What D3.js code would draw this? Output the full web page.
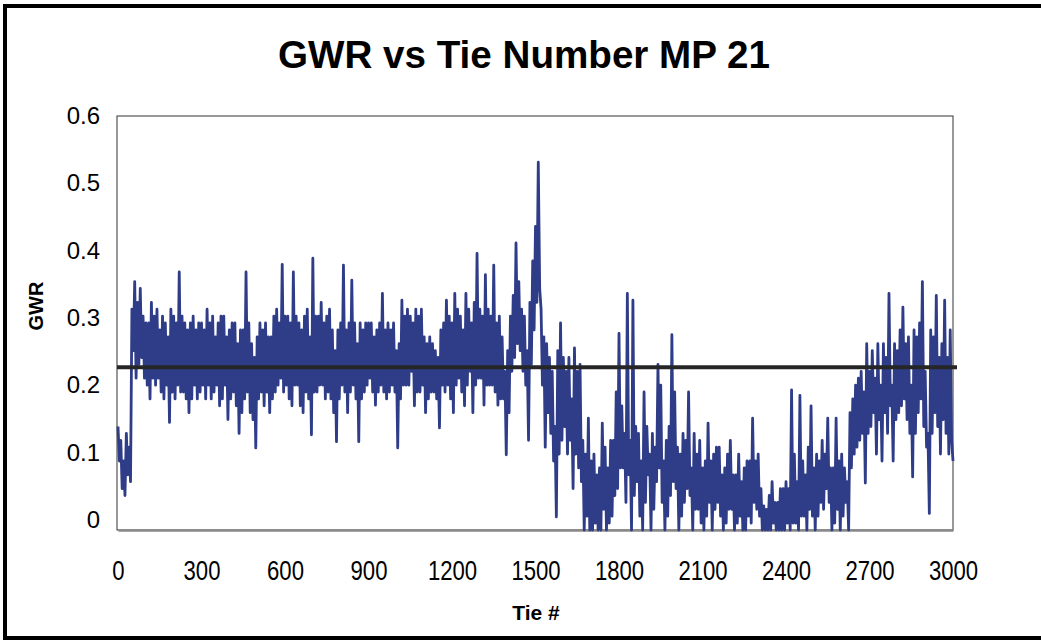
<!DOCTYPE html>
<html>
<head>
<meta charset="utf-8">
<script src="https://cdn.jsdelivr.net/npm/d3@7"></script>
<style>
  html, body { margin: 0; padding: 0; background: #fff; }
  svg { display: block; }
  text { font-family: "Liberation Sans", Arial, sans-serif; fill: #000; }
</style>
</head>
<body>
<svg id="chart" width="1041" height="642"></svg>
<script>
// ---- data ----
const chartTitle = "GWR vs Tie Number MP 21";
const xLabel = "Tie #";
const yLabel = "GWR";
const xTicks = [0, 300, 600, 900, 1200, 1500, 1800, 2100, 2400, 2700, 3000];
const yTicks = [0, 0.1, 0.2, 0.3, 0.4, 0.5, 0.6];
const meanGWR = 0.236;
const tieStep = 5; // GWR readings below are every 5 ties, starting at tie 0 (one row = 100 ties)
const gwr = [
  0.15,0.10, 0.13,0.06, 0.10,0.05, 0.14,0.08, 0.12,0.07, 0.32,0.26, 0.36,0.22, 0.33,0.24, 0.35,0.25, 0.31,0.22,
  0.30,0.21, 0.30,0.19, 0.33,0.22, 0.31,0.21, 0.32,0.22, 0.29,0.20, 0.31,0.19, 0.30,0.21, 0.28,0.156, 0.32,0.20,
  0.31,0.19, 0.30,0.21, 0.374,0.20, 0.31,0.20, 0.30,0.19, 0.29,0.17, 0.30,0.19, 0.31,0.21, 0.29,0.19, 0.30,0.20,
  0.30,0.21, 0.29,0.19, 0.32,0.21, 0.30,0.19, 0.31,0.20, 0.28,0.21, 0.30,0.18, 0.31,0.19, 0.31,0.21, 0.28,0.16,
  0.29,0.19, 0.30,0.20, 0.30,0.18, 0.27,0.14, 0.29,0.17, 0.29,0.19, 0.374,0.20, 0.30,0.17, 0.27,0.16, 0.25,0.119,
  0.28,0.19, 0.30,0.20, 0.29,0.18, 0.30,0.20, 0.28,0.17, 0.28,0.19, 0.31,0.20, 0.32,0.21, 0.30,0.22, 0.385,0.20,
  0.31,0.21, 0.31,0.19, 0.30,0.18, 0.374,0.21, 0.31,0.21, 0.30,0.18, 0.29,0.17, 0.31,0.20, 0.32,0.19, 0.28,0.138,
  0.394,0.20, 0.31,0.20, 0.31,0.21, 0.33,0.21, 0.30,0.19, 0.31,0.20, 0.32,0.19, 0.29,0.17, 0.26,0.128, 0.29,0.19,
  0.30,0.21, 0.384,0.20, 0.29,0.17, 0.30,0.20, 0.362,0.21, 0.30,0.19, 0.27,0.128, 0.30,0.19, 0.29,0.20, 0.30,0.21,
  0.30,0.22, 0.30,0.20, 0.28,0.181, 0.29,0.20, 0.30,0.21, 0.343,0.20, 0.29,0.19, 0.30,0.20, 0.29,0.21, 0.30,0.20,
  0.26,0.119, 0.27,0.19, 0.333,0.21, 0.31,0.21, 0.32,0.21, 0.31,0.23, 0.30,0.18, 0.32,0.20, 0.31,0.20, 0.32,0.21,
  0.28,0.17, 0.27,0.19, 0.28,0.20, 0.27,0.20, 0.26,0.19, 0.25,0.148, 0.29,0.21, 0.30,0.20, 0.333,0.21, 0.31,0.19,
  0.30,0.17, 0.343,0.21, 0.32,0.22, 0.31,0.20, 0.29,0.18, 0.343,0.21, 0.32,0.23, 0.30,0.17, 0.33,0.21, 0.401,0.22,
  0.32,0.22, 0.31,0.181, 0.37,0.21, 0.32,0.21, 0.31,0.21, 0.384,0.20, 0.30,0.181, 0.31,0.19, 0.28,0.19, 0.23,0.109,
  0.26,0.17, 0.31,0.23, 0.34,0.25, 0.416,0.27, 0.36,0.26, 0.32,0.23, 0.31,0.21, 0.26,0.13, 0.33,0.24, 0.39,0.29,
  0.44,0.33, 0.533,0.35, 0.32,0.21, 0.28,0.12, 0.27,0.17, 0.25,0.14, 0.23,0.10, 0.15,0.019, 0.26,0.11, 0.30,0.13,
  0.25,0.15, 0.23,0.11, 0.25,0.13, 0.19,0.06, 0.264,0.11, 0.23,0.09, 0.24,0.07, 0.13,0.0, 0.11,0.02, 0.162,0.0,
  0.10,0.0, 0.11,0.01, 0.08,0.0, 0.09,0.0, 0.155,0.03, 0.12,0.0, 0.09,0.01, 0.13,0.02, 0.13,0.05, 0.20,0.06,
  0.285,0.09, 0.18,0.09, 0.14,0.04, 0.343,0.08, 0.13,0.0, 0.333,0.05, 0.15,0.07, 0.14,0.02, 0.10,0.0, 0.20,0.04,
  0.15,0.08, 0.11,0.0, 0.14,0.03, 0.12,0.07, 0.24,0.09, 0.21,0.04, 0.10,0.0, 0.13,0.02, 0.15,0.05, 0.283,0.07,
  0.20,0.06, 0.12,0.0, 0.11,0.02, 0.14,0.04, 0.13,0.06, 0.20,0.05, 0.09,0.0, 0.14,0.03, 0.11,0.03, 0.13,0.01,
  0.09,0.0, 0.10,0.02, 0.155,0.04, 0.10,0.0, 0.11,0.03, 0.12,0.04, 0.12,0.02, 0.08,0.0, 0.09,0.01, 0.11,0.03,
  0.13,0.03, 0.08,0.0, 0.08,0.01, 0.11,0.02, 0.07,0.0, 0.09,0.0, 0.10,0.02, 0.10,0.01, 0.162,0.04, 0.10,0.03,
  0.11,0.02, 0.06,0.0, 0.035,0.0, 0.03,0.0, 0.05,0.0, 0.07,0.01, 0.04,0.0, 0.04,0.0, 0.06,0.0, 0.06,0.0,
  0.07,0.01, 0.06,0.0, 0.203,0.01, 0.11,0.01, 0.07,0.0, 0.195,0.02, 0.10,0.02, 0.08,0.0, 0.12,0.03, 0.18,0.02,
  0.09,0.0, 0.11,0.02, 0.10,0.04, 0.13,0.03, 0.11,0.06, 0.162,0.04, 0.09,0.0, 0.09,0.01, 0.162,0.03, 0.10,0.0,
  0.11,0.02, 0.09,0.04, 0.07,0.0, 0.17,0.09, 0.19,0.11, 0.21,0.12, 0.22,0.13, 0.23,0.14, 0.20,0.068, 0.27,0.14,
  0.23,0.15, 0.26,0.17, 0.22,0.11, 0.27,0.16, 0.21,0.10, 0.27,0.17, 0.25,0.14, 0.343,0.18, 0.21,0.10, 0.27,0.16,
  0.26,0.17, 0.29,0.18, 0.323,0.19, 0.27,0.16, 0.28,0.14, 0.21,0.077, 0.29,0.14, 0.28,0.17, 0.30,0.19, 0.36,0.15,
  0.23,0.12, 0.14,0.024, 0.29,0.14, 0.28,0.17, 0.34,0.15, 0.25,0.11, 0.27,0.16, 0.333,0.14, 0.25,0.11, 0.29,0.13,
  0.10
];

// ---- layout ----
const svg = d3.select("#chart");
const W = 1041, H = 642;
const plot = { left: 118, right: 953, top: 116, bottom: 530 };

svg.append("rect").attr("width", W).attr("height", H).attr("fill", "#fff");

// outer frame (right edge falls outside the picture)
svg.append("rect")
  .attr("x", 5).attr("y", 6).attr("width", W + 10).attr("height", 632)
  .attr("fill", "none").attr("stroke", "#000").attr("stroke-width", 4);

const x = d3.scaleLinear().domain([0, 3000]).range([plot.left, plot.right]);
const y = d3.scaleLinear().domain([0, 0.6]).range([plot.bottom, plot.top]);
const yLabelScale = y.copy().range([519, 115]);

// plot area border
svg.append("rect")
  .attr("x", plot.left - 1).attr("y", plot.top)
  .attr("width", plot.right - plot.left + 1).attr("height", plot.bottom - plot.top)
  .attr("fill", "none").attr("stroke", "#333").attr("stroke-width", 1);

// x axis
const xAxis = svg.append("g")
  .attr("transform", `translate(0,${plot.bottom})`)
  .call(d3.axisBottom(x).tickValues(xTicks).tickSize(0).tickPadding(0).tickFormat(d3.format("d")));
xAxis.select(".domain").attr("stroke", "#8a8a8a").attr("stroke-width", 2.5);
xAxis.selectAll("text")
  .attr("y", 50).attr("dy", null)
  .attr("transform", "scale(0.82,1)")
  .style("font-size", "27px").attr("fill", "#000");

// y axis (labels only)
const yAxis = svg.append("g")
  .attr("transform", `translate(100,0)`)
  .call(d3.axisLeft(yLabelScale).tickValues(yTicks).tickSize(0).tickPadding(0)
        .tickFormat(d => d === 0 ? "0" : d3.format(".1f")(d)));
yAxis.select(".domain").remove();
yAxis.selectAll("text").style("font-size", "24px").attr("fill", "#000").attr("dy", "0.36em");

// series
const pts = gwr.map((v, i) => [i * tieStep, v]);
const line = d3.line().x(d => x(d[0])).y(d => y(d[1]));
svg.append("path")
  .datum(pts)
  .attr("d", line)
  .attr("fill", "none")
  .attr("stroke", "#2f3c88")
  .attr("stroke-width", 2.8)
  .attr("stroke-linejoin", "round");

// mean line
svg.append("line")
  .attr("x1", x(0) - 1).attr("x2", x(3000) + 4)
  .attr("y1", y(meanGWR)).attr("y2", y(meanGWR))
  .attr("stroke", "#262626").attr("stroke-width", 4);

// title
svg.append("text")
  .attr("x", 524).attr("y", 68)
  .attr("text-anchor", "middle")
  .attr("textLength", 492).attr("lengthAdjust", "spacingAndGlyphs")
  .style("font-size", "39px").style("font-weight", "bold")
  .text(chartTitle);

// axis titles
svg.append("text")
  .attr("transform", "translate(43,306) rotate(-90)")
  .attr("text-anchor", "middle")
  .style("font-size", "20px").style("font-weight", "bold")
  .text(yLabel);

svg.append("text")
  .attr("x", 536).attr("y", 620)
  .attr("text-anchor", "middle")
  .style("font-size", "21px").style("font-weight", "bold")
  .text(xLabel);
</script>
</body>
</html>
